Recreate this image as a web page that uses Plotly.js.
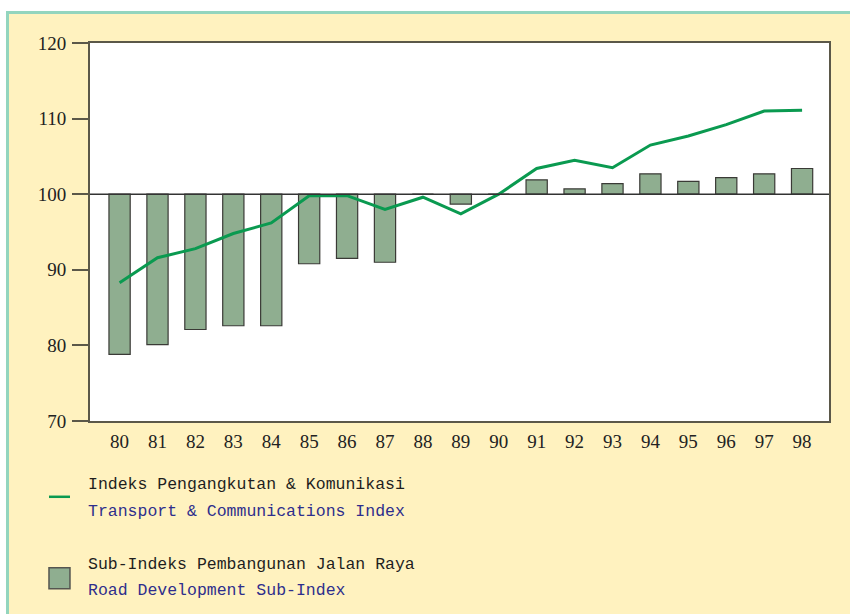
<!DOCTYPE html>
<html>
<head>
<meta charset="utf-8">
<script src="https://cdn.plot.ly/plotly-3.0.1.min.js"></script>
<style>
  html, body { margin:0; padding:0; background:#ffffff; }
  #wrap { position:relative; width:850px; height:614px; background:#ffffff; overflow:hidden; }
  #bg { position:absolute; left:6px; top:11px; right:0; bottom:0; background:#FFF2BF;
        border-top:3px solid #93D5BE; border-left:3px solid #93D5BE; }
  #chart { position:absolute; left:0; top:0; width:850px; height:614px; }
</style>
</head>
<body>
<div id="wrap">
  <div id="bg"></div>
  <div id="chart"></div>
</div>
<script>
const years = ['80','81','82','83','84','85','86','87','88','89','90','91','92','93','94','95','96','97','98'];
const transportIndex = [88.3, 91.6, 92.8, 94.8, 96.2, 99.8, 99.8, 98.0, 99.6, 97.4, 100.0, 103.4, 104.5, 103.5, 106.5, 107.7, 109.2, 111.0, 111.1];
const roadSubIndex = [78.8, 80.1, 82.1, 82.6, 82.6, 90.8, 91.5, 91.0, 100.0, 98.7, 100.0, 101.9, 100.7, 101.4, 102.7, 101.7, 102.2, 102.7, 103.4];
const baseValue = 100;
const yTicks = [70, 80, 90, 100, 110, 120];

const legendLine1 = 'Indeks Pengangkutan & Komunikasi';
const legendLine1b = 'Transport & Communications Index';
const legendBar1 = 'Sub-Indeks Pembangunan Jalan Raya';
const legendBar1b = 'Road Development Sub-Index';

const barColor = '#8FAE90';
const lineColor = '#0A9A50';
const frameColor = '#5B5849';

const traces = [
  {
    type: 'bar',
    x: years,
    y: roadSubIndex.map(v => v - baseValue),
    base: baseValue,
    width: 0.56,
    marker: { color: barColor, line: { color: '#3a3a36', width: 1.2 } },
    name: legendBar1,
    showlegend: false,
    hoverinfo: 'skip'
  },
  {
    type: 'scatter',
    mode: 'lines',
    x: years,
    y: transportIndex,
    line: { color: lineColor, width: 3 },
    name: legendLine1,
    showlegend: false,
    hoverinfo: 'skip'
  }
];

const legFont = { family: 'Liberation Mono, monospace', size: 16.5 };

const layout = {
  width: 850,
  height: 614,
  margin: { l: 90, r: 21, t: 43, b: 193 },
  paper_bgcolor: 'rgba(0,0,0,0)',
  plot_bgcolor: '#ffffff',
  showlegend: false,
  xaxis: {
    type: 'category',
    range: [-0.78, 18.71],
    showgrid: false,
    zeroline: false,
    showline: true,
    mirror: true,
    linecolor: frameColor,
    linewidth: 2,
    ticks: '',
    tickfont: { family: 'Liberation Serif, serif', size: 19, color: '#222222' },
    ticklabelstandoff: 2,
    fixedrange: true
  },
  yaxis: {
    range: [70, 120],
    tickvals: yTicks,
    ticktext: yTicks.map(String),
    showgrid: false,
    zeroline: false,
    showline: true,
    mirror: true,
    linecolor: frameColor,
    linewidth: 2,
    ticks: 'outside',
    ticklen: 16,
    tickwidth: 2,
    tickcolor: frameColor,
    tickfont: { family: 'Liberation Serif, serif', size: 19, color: '#222222' },
    ticklabelstandoff: 2,
    fixedrange: true
  },
  shapes: [
    { type: 'line', xref: 'paper', yref: 'y', x0: 0, x1: 1, y0: baseValue, y1: baseValue,
      line: { color: '#333333', width: 1.5 }, layer: 'above' },
    { type: 'line', xref: 'paper', yref: 'paper', x0: -0.0555, x1: -0.0271, y0: -0.2005, y1: -0.2005,
      line: { color: lineColor, width: 2.5 } },
    { type: 'rect', xref: 'paper', yref: 'paper', x0: -0.0555, x1: -0.0271, y0: -0.444, y1: -0.388,
      fillcolor: barColor, line: { color: '#555550', width: 1.5 } }
  ],
  annotations: [
    { xref: 'paper', yref: 'paper', x: -0.0055, y: -0.1693, xanchor: 'left', yanchor: 'middle',
      text: legendLine1, showarrow: false, font: Object.assign({ color: '#1e1e1e' }, legFont) },
    { xref: 'paper', yref: 'paper', x: -0.0055, y: -0.2407, xanchor: 'left', yanchor: 'middle',
      text: legendLine1b, showarrow: false, font: Object.assign({ color: '#2E2E8C' }, legFont) },
    { xref: 'paper', yref: 'paper', x: -0.0055, y: -0.3795, xanchor: 'left', yanchor: 'middle',
      text: legendBar1, showarrow: false, font: Object.assign({ color: '#1e1e1e' }, legFont) },
    { xref: 'paper', yref: 'paper', x: -0.0055, y: -0.4497, xanchor: 'left', yanchor: 'middle',
      text: legendBar1b, showarrow: false, font: Object.assign({ color: '#2E2E8C' }, legFont) }
  ]
};

Plotly.newPlot('chart', traces, layout, { displayModeBar: false, staticPlot: true });
</script>
</body>
</html>
